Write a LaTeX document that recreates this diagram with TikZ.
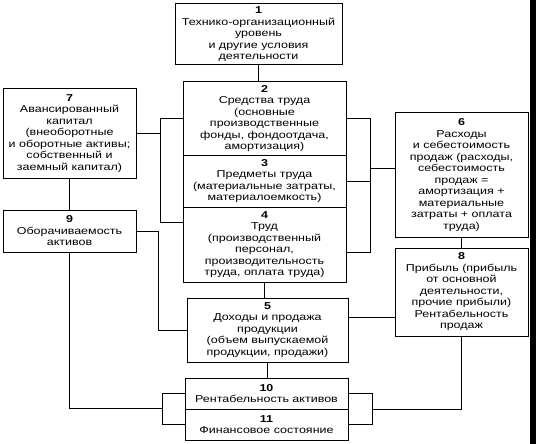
\documentclass[tikz,border=0pt]{standalone}
\usepackage{fontspec}
\setmainfont{Liberation Sans}[FakeStretch=1.25]
\begin{document}
\begin{tikzpicture}[x=1pt,y=-1pt,
  box/.style={draw, line width=1pt, rectangle, inner sep=0pt, align=center,
    font=\fontsize{10}{11.5}\selectfont},
  conn/.style={draw, line width=0.9pt}]
\useasboundingbox (0,0) rectangle (536,444);
\fill[black] (530,0) rectangle (536,444);
% boxes
\node[box, minimum width=167pt, minimum height=61pt] (b1) at (258.5,34.5)
  {\textbf{1}\\Технико-организационный\\уровень\\и другие условия\\деятельности};
\node[box, minimum width=163pt, minimum height=73pt] (b2) at (264.5,118.5)
  {\textbf{2}\\Средства труда\\(основные\\производственные\\фонды, фондоотдача,\\амортизация)};
\node[box, minimum width=163pt, minimum height=52pt] (b3) at (264.5,181)
  {\textbf{3}\\Предметы труда\\(материальные затраты,\\материалоемкость)};
\node[box, minimum width=163pt, minimum height=75pt] (b4) at (264.5,244.5)
  {\textbf{4}\\Труд\\(производственный\\персонал,\\производительность\\труда, оплата труда)};
\node[box, minimum width=161pt, minimum height=64pt] (b5) at (267.5,330)
  {\textbf{5}\\Доходы и продажа\\продукции\\(объем выпускаемой\\продукции, продажи)};
\node[box, minimum width=163pt, minimum height=31pt] (b10) at (266.5,393.5)
  {\textbf{10}\\Рентабельность активов};
\node[box, minimum width=163pt, minimum height=31pt] (b11) at (266.5,424.5)
  {\textbf{11}\\Финансовое состояние};
\node[box, minimum width=133pt, minimum height=89pt] (b7) at (69.5,133.5)
  {\textbf{7}\\Авансированный\\капитал\\(внеоборотные\\и оборотные активы;\\собственный и\\заемный капитал)};
\node[box, minimum width=133pt, minimum height=42pt] (b9) at (69.5,231)
  {\textbf{9}\\Оборачиваемость\\активов};
\node[box, minimum width=133pt, minimum height=124pt] (b6) at (461.5,175)
  {\textbf{6}\\Расходы\\и себестоимость\\продаж (расходы,\\себестоимость\\продаж =\\амортизация +\\материальные\\затраты + оплата\\труда)};
\node[box, minimum width=133pt, minimum height=88pt] (b8) at (461.5,292)
  {\textbf{8}\\Прибыль (прибыль\\от основной\\деятельности,\\прочие прибыли)\\Рентабельность\\продаж};
% bend coordinates
\coordinate (a4) at (160,222);
\coordinate (bx) at (158,0);
\coordinate (c0) at (162,408);
\coordinate (d) at (370,252);
\coordinate (d6) at (370,168);
\coordinate (h58) at (370,317);
\coordinate (e) at (372,409);
% connectors
\draw[conn] (b1.south) -- (b1.south |- b2.north);
\draw[conn] (b4.south) -- (b4.south |- b5.north);
\draw[conn] (b5.south) -- (b5.south |- b10.north);
\draw[conn] (b7.south) -- (b9.north);
\draw[conn] (b6.south) -- (b8.north);
\draw[conn] (b2.west) -- (b2.west -| a4) -- (a4) -- (b4.west |- a4);
\draw[conn] (b7.east) -- (b7.east -| a4);
\draw[conn] (b9.east) -- (b9.east -| bx) -- (bx |- b5.west) -- (b5.west);
\draw[conn] (b9.south) -- (b9.south |- c0) -- (c0);
\draw[conn] (b10.west) -- (b10.west -| c0) -- (b11.west -| c0) -- (b11.west);
\draw[conn] (b2.east) -- (b2.east -| d) -- (d) -- (b4.east |- d);
\draw[conn] (b3.east) -- (b3.east -| d);
\draw[conn] (d6) -- (b6.west |- d6);
\draw[conn] (b5.east |- h58) -- (b8.west |- h58);
\draw[conn] (b8.south) -- (b8.south |- e) -- (e);
\draw[conn] (b10.east) -- (b10.east -| e) -- (b11.east -| e) -- (b11.east);
\end{tikzpicture}
\end{document}
